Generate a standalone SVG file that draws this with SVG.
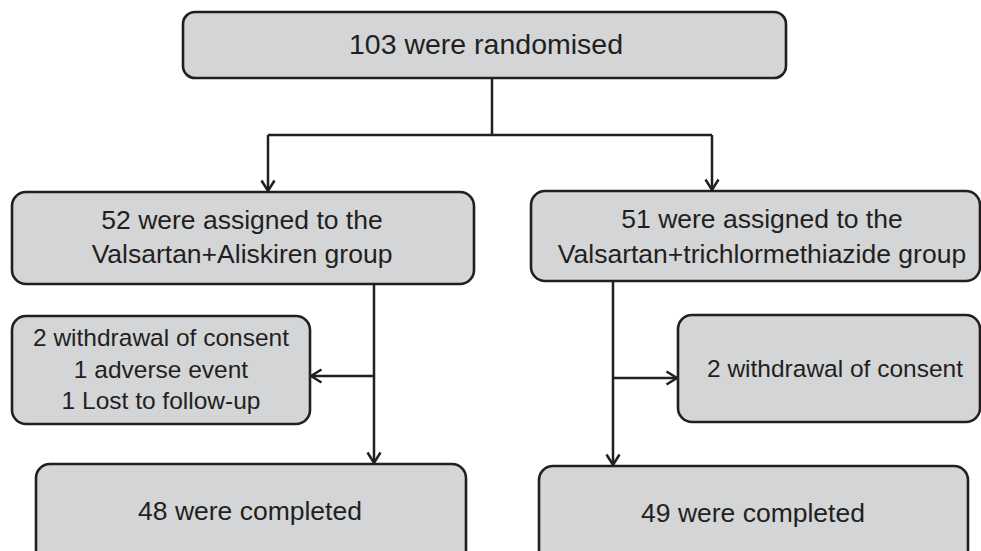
<svg xmlns="http://www.w3.org/2000/svg" width="981" height="551" viewBox="0 0 981 551">
<style>
.box{fill:#d4d5d7;stroke:#231f20;stroke-width:2.6}
.t{font-family:"Liberation Sans",Arial,sans-serif;fill:#231f20;text-anchor:middle}
.c{fill:none;stroke:#231f20;stroke-width:2.5}
</style>
<defs>
<marker id="arr" markerUnits="userSpaceOnUse" markerWidth="16" markerHeight="16" viewBox="0 0 13 16" refX="11.5" refY="8" orient="auto">
<path d="M1,1.5 L11.5,8 L1,14.5" fill="none" stroke="#231f20" stroke-width="2.5"/>
</marker>
</defs>
<rect width="981" height="551" fill="#ffffff"/>
<g id="connectors">
<path class="c" d="M492,78 V135"/>
<path class="c" d="M268,135 H712"/>
<path class="c" d="M268,135 V191" marker-end="url(#arr)"/>
<path class="c" d="M712,135 V190" marker-end="url(#arr)"/>
<path class="c" d="M374,284 V463" marker-end="url(#arr)"/>
<path class="c" d="M374,376 H311" marker-end="url(#arr)"/>
<path class="c" d="M613,282 V465" marker-end="url(#arr)"/>
<path class="c" d="M613,378 H677" marker-end="url(#arr)"/>
</g>
<g id="randomised">
<rect class="box" x="183" y="12" width="603" height="66" rx="12"/>
<text class="t" x="486" y="54" font-size="28.5">103 were randomised</text>
</g>
<g id="group-va">
<rect class="box" x="12" y="192" width="462" height="92" rx="14"/>
<text class="t" x="242" y="229" font-size="26.5">52 were assigned to the</text>
<text class="t" x="242" y="263" font-size="26.5">Valsartan+Aliskiren group</text>
</g>
<g id="group-vt">
<rect class="box" x="531" y="191" width="449" height="90" rx="14"/>
<text class="t" x="762" y="228" font-size="26.5">51 were assigned to the</text>
<text class="t" x="762" y="263" font-size="26.5">Valsartan+trichlormethiazide group</text>
</g>
<g id="withdrawn-va">
<rect class="box" x="12" y="316" width="298" height="108" rx="14"/>
<text class="t" x="161" y="346" font-size="24.5">2 withdrawal of consent</text>
<text class="t" x="161" y="378" font-size="24.5">1 adverse event</text>
<text class="t" x="161" y="409" font-size="24.5">1 Lost to follow-up</text>
</g>
<g id="withdrawn-vt">
<rect class="box" x="678" y="315" width="302" height="107" rx="14"/>
<text class="t" x="835" y="377" font-size="24.5">2 withdrawal of consent</text>
</g>
<g id="completed-va">
<rect class="box" x="36" y="464" width="430" height="100" rx="14"/>
<text class="t" x="250" y="520" font-size="26.5">48 were completed</text>
</g>
<g id="completed-vt">
<rect class="box" x="539" y="466" width="429" height="100" rx="14"/>
<text class="t" x="753" y="522" font-size="26.5">49 were completed</text>
</g>
</svg>
